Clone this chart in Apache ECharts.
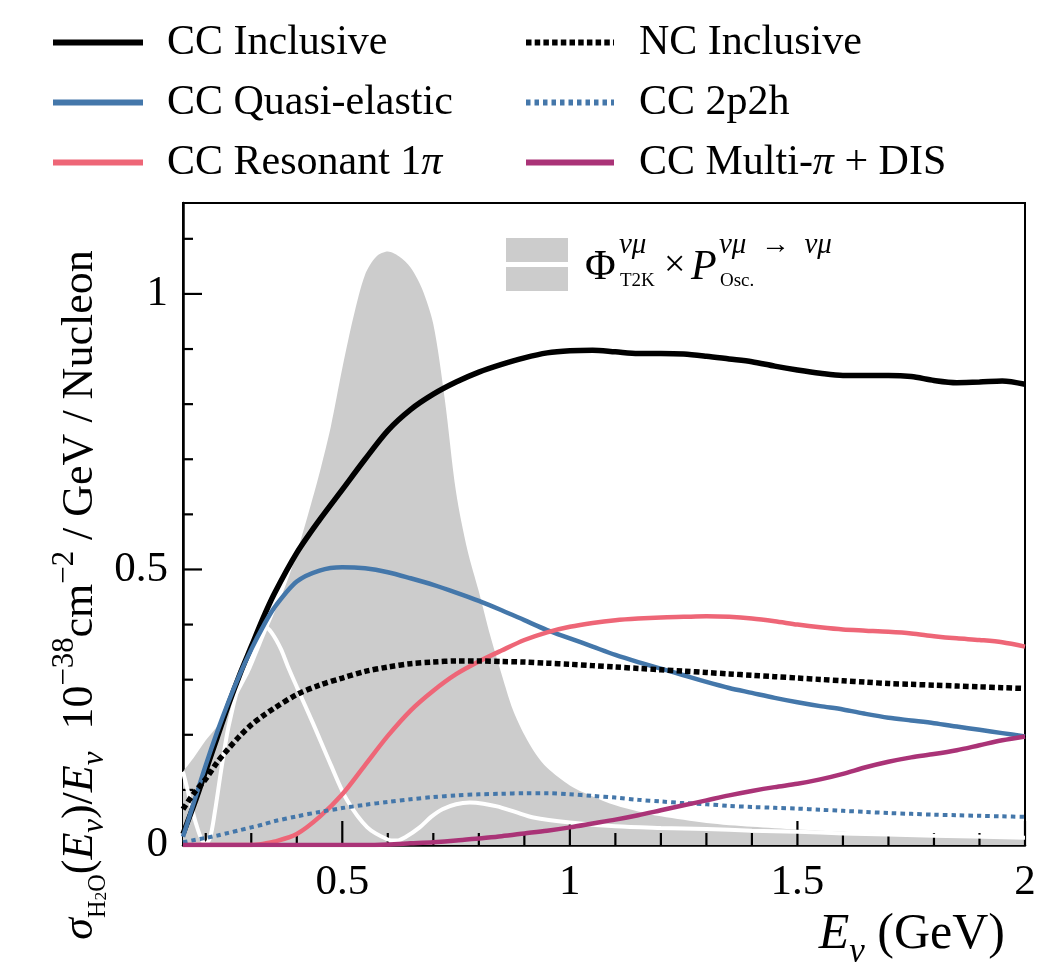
<!DOCTYPE html>
<html><head><meta charset="utf-8">
<script src="https://cdn.jsdelivr.net/npm/echarts@6/dist/echarts.min.js"></script>
<style>html,body{margin:0;padding:0;background:#fff}#c{width:1051px;height:965px}</style>
</head><body><div id="c"></div>
<script>
// ---- data ----
const energy = [0.15,0.175,0.2,0.225,0.25,0.275,0.3,0.325,0.35,
  0.4,0.45,0.5,0.55,0.6,0.65,0.7,0.75,0.8,0.85,0.9,0.95,1.0,
  1.05,1.1,1.15,1.2,1.25,1.3,1.35,1.4,1.45,1.5,1.55,1.6,1.65,1.7,1.75,1.8,1.85,1.9,1.95,2.0];
const ccInclusive = [0.02,0.075,0.135,0.195,0.255,0.31,0.36,0.41,0.455,
  0.53,0.59,0.645,0.70,0.752,0.79,0.818,0.84,0.858,0.872,0.884,0.893,0.897,
  0.898,0.895,0.892,0.892,0.891,0.887,0.882,0.877,0.869,0.862,0.856,0.852,0.852,0.852,0.850,0.843,0.839,0.840,0.842,0.836];
const ccQE = [0.015,0.08,0.145,0.205,0.26,0.31,0.355,0.395,0.43,
  0.478,0.498,0.504,0.502,0.495,0.484,0.472,0.458,0.443,0.426,0.408,0.39,0.375,
  0.36,0.345,0.332,0.32,0.308,0.296,0.285,0.276,0.267,0.259,0.252,0.246,0.238,0.231,0.226,0.221,0.215,0.209,0.203,0.197];
const ccRes = [0,0,0,0,0,0,0,0.002,0.006,
  0.02,0.051,0.092,0.145,0.198,0.244,0.28,0.31,0.333,0.353,0.372,0.386,0.396,
  0.403,0.408,0.411,0.413,0.414,0.415,0.414,0.411,0.406,0.4,0.395,0.391,0.389,0.387,0.384,0.379,0.375,0.372,0.368,0.36];
const ncInclusive = [0.065,0.095,0.12,0.15,0.175,0.198,0.218,0.234,0.248,
  0.273,0.29,0.303,0.315,0.323,0.329,0.332,0.334,0.334,0.333,0.332,0.33,0.328,
  0.3255,0.323,0.3205,0.318,0.3155,0.313,0.3105,0.308,0.3055,0.303,0.3005,0.298,0.2955,0.293,0.2915,0.29,0.2885,0.287,0.2855,0.284];
const cc2p2h = [0.005,0.009,0.013,0.017,0.022,0.027,0.032,0.037,0.043,
  0.052,0.06,0.067,0.073,0.078,0.083,0.087,0.09,0.092,0.093,0.094,0.094,0.092,
  0.089,0.086,0.082,0.079,0.076,0.074,0.071,0.069,0.0675,0.066,0.064,0.062,0.06,0.058,0.0565,0.055,0.054,0.053,0.052,0.051];
const ccMultiPiDIS = [0,0,0,0,0,0,0,0,0,
  0,0,0,0,0.001,0.003,0.005,0.008,0.012,0.016,0.021,0.026,0.032,
  0.039,0.046,0.054,0.063,0.072,0.081,0.09,0.098,0.105,0.111,0.119,0.129,0.141,0.151,0.159,0.165,0.172,0.181,0.19,0.197];

const fluxEnergy = [0.15,0.175,0.2,0.225,0.25,0.275,0.3,0.325,0.35,0.375,0.4,0.425,0.45,0.475,0.5,0.525,0.55,0.575,0.6,0.625,
  0.65,0.675,0.7,0.725,0.75,0.775,0.8,0.825,0.85,0.875,0.9,0.925,0.95,1.0,1.05,1.1,1.15,1.2,1.3,1.4,1.5,1.6,1.7,1.8,1.9,2.0];
const fluxT2K = [0.133,0.16,0.19,0.215,0.245,0.28,0.32,0.37,0.42,0.47,0.53,0.6,0.675,0.76,0.865,0.96,1.035,1.068,1.077,1.068,
  1.048,1.01,0.945,0.81,0.64,0.535,0.46,0.38,0.31,0.245,0.2,0.165,0.14,0.108,0.088,0.072,0.061,0.052,0.04,0.033,0.028,0.024,0.021,0.019,0.017,0.016];

const oscEnergy = [0.15,0.16,0.17,0.18,0.19,0.2,0.21,0.22,0.235,0.25,0.275,0.3,0.315,0.33,0.345,0.365,0.38,0.4,0.435,0.475,
  0.51,0.555,0.6,0.62,0.64,0.67,0.695,0.72,0.75,0.78,0.81,0.84,0.88,0.92,1.0,1.1,1.2,1.3,1.4,1.5,1.6,1.8,2.0];
const fluxOsc = [0.133,0.10,0.065,0.035,0.012,0.002,0.015,0.06,0.142,0.215,0.30,0.365,0.39,0.396,0.385,0.356,0.325,0.287,0.222,0.145,
  0.082,0.032,0.01,0.008,0.015,0.032,0.051,0.065,0.074,0.077,0.075,0.07,0.06,0.05,0.041,0.034,0.031,0.029,0.026,0.024,0.021,0.017,0.013];

const xMajorTicks = [0.5, 1, 1.5, 2];
const xMinorTicks = [0.2,0.3,0.4,0.6,0.7,0.8,0.9,1.1,1.2,1.3,1.4,1.6,1.7,1.8,1.9];
const yMajorTicks = [0, 0.5, 1];
const yMinorTicks = [0.1,0.2,0.3,0.4,0.6,0.7,0.8,0.9,1.1];

// ---- chart ----
const F = 'Liberation Serif';
const X_MIN = 0.15, X_MAX = 2, Y_MIN = 0, Y_MAX = 1.165;
const pairs = (xs, ys) => xs.map((x, i) => [x, ys[i]]);
const mkRich = (m) => ({
  n: {fontFamily: F, fontSize: m, color: '#000', lineHeight: m * 1.4},
  i: {fontFamily: F, fontSize: m, fontStyle: 'italic', color: '#000', lineHeight: m * 1.4},
  si: {fontFamily: F, fontSize: m * 0.7, fontStyle: 'italic', color: '#000', verticalAlign: 'bottom', lineHeight: m * 0.9},
  s: {fontFamily: F, fontSize: m * 0.55, color: '#000', verticalAlign: 'bottom', lineHeight: m * 0.9},
  ss: {fontFamily: F, fontSize: m * 0.4, color: '#000', verticalAlign: 'bottom', lineHeight: m * 0.75},
  p: {fontFamily: F, fontSize: m * 0.7, color: '#000', verticalAlign: 'top', lineHeight: m * 0.8}
});

const lineSeries = (name, data, color, width, type) => ({
  name, type: 'line', data: pairs(energy, data), showSymbol: false, symbol: 'none',
  smooth: 0.3, color, lineStyle: {color, width, type: type || 'solid', cap: 'butt'},
  z: 5, silent: true
});

// inward tick marks, placed through the axis scales (named so the legend filter keeps them)
const tickSeries = (name, values, dir, len) => ({
  name, type: 'custom', silent: true, clip: false,
  data: values.map(v => dir === 'x' ? [v, Y_MIN] : [X_MIN, v]),
  renderItem: (params, api) => {
    const p = api.coord([api.value(0), api.value(1)]);
    const shape = dir === 'x' ? {x: p[0] - 1.1, y: p[1] - len, width: 2.2, height: len}
                              : {x: p[0], y: p[1] - 1.1, width: len, height: 2.2};
    return {type: 'rect', shape, style: {fill: '#000'}};
  }
});

const chart = echarts.init(document.getElementById('c'));
const axisTxt = {fontFamily: F, fontSize: 43, color: '#000'};
const legendBase = {
  top: 15, orient: 'vertical', itemWidth: 90, itemHeight: 20, itemGap: 15,
  lineStyle: {width: 6}, itemStyle: {color: 'transparent', borderColor: 'transparent', borderWidth: 0}, selectedMode: false,
  formatter: n => n.replace('π', '{i|π}'),
  textStyle: {fontFamily: F, fontSize: 42, color: '#000', lineHeight: 45, padding: [0, 0, 0, 19],
    rich: {i: {fontFamily: F, fontSize: 42, fontStyle: 'italic', color: '#000'}}}
};

chart.setOption({
  animation: false,
  grid: {left: 183, right: 26, top: 203, bottom: 120, show: true, borderColor: '#000', borderWidth: 2},
  xAxis: {type: 'value', min: X_MIN, max: X_MAX,
    axisLine: {show: true, onZero: false, lineStyle: {color: '#000', width: 2.5}},
    axisTick: {show: false},
    axisLabel: Object.assign({customValues: xMajorTicks, margin: 16}, axisTxt),
    splitLine: {show: false}},
  yAxis: {type: 'value', min: Y_MIN, max: Y_MAX,
    axisLine: {show: true, onZero: false, lineStyle: {color: '#000', width: 2.5}},
    axisTick: {show: false},
    axisLabel: Object.assign({customValues: yMajorTicks, margin: 15}, axisTxt),
    splitLine: {show: false}},
  legend: [
    Object.assign({}, legendBase, {left: 45, data: ['CC Inclusive', 'CC Quasi-elastic', 'CC Resonant 1π']}),
    Object.assign({}, legendBase, {left: 518, itemWidth: 88,
      textStyle: Object.assign({}, legendBase.textStyle, {padding: [0, 0, 0, 20]}),
      data: ['NC Inclusive', 'CC 2p2h', 'CC Multi-π + DIS']})
  ],
  series: [
    {name: 'flux', type: 'line', data: pairs(fluxEnergy, fluxT2K), showSymbol: false, symbol: 'none', smooth: 0.3,
      color: '#cccccc', lineStyle: {width: 0, color: '#cccccc'}, areaStyle: {color: '#cccccc', opacity: 1}, z: 1, silent: true},
    {name: 'oscillated', type: 'line', data: pairs(oscEnergy, fluxOsc), showSymbol: false, symbol: 'none', smooth: 0.3,
      color: '#ffffff', lineStyle: {width: 4, color: '#ffffff'}, z: 2, silent: true},
    tickSeries('x major ticks', xMajorTicks, 'x', 24),
    tickSeries('x minor ticks', xMinorTicks, 'x', 12),
    tickSeries('y major ticks', yMajorTicks, 'y', 19),
    tickSeries('y minor ticks', yMinorTicks, 'y', 10),
    lineSeries('CC Inclusive', ccInclusive, '#000000', 5.5),
    lineSeries('CC Quasi-elastic', ccQE, '#4477AA', 4.5),
    lineSeries('CC Resonant 1π', ccRes, '#EE6677', 4.5),
    lineSeries('NC Inclusive', ncInclusive, '#000000', 5.5, [5.5, 3.2]),
    lineSeries('CC 2p2h', cc2p2h, '#4477AA', 4, [4.5, 4]),
    lineSeries('CC Multi-π + DIS', ccMultiPiDIS, '#AA3377', 4.5)
  ],
  graphic: [
    // legend entry for the flux band
    {type: 'rect', shape: {x: 506, y: 238, width: 62, height: 24}, style: {fill: '#cccccc'}, z: 10},
    {type: 'rect', shape: {x: 506, y: 267, width: 62, height: 24}, style: {fill: '#cccccc'}, z: 10},
    {type: 'text', x: 585, y: 268, z: 10, style: {text: 'Φ', fontFamily: F, fontSize: 42, fill: '#000', verticalAlign: 'middle'}},
    {type: 'text', x: 619, y: 245, z: 10, style: {text: 'νμ', fontFamily: F, fontSize: 29, fontStyle: 'italic', fill: '#000', verticalAlign: 'middle'}},
    {type: 'text', x: 620, y: 281, z: 10, style: {text: 'T2K', fontFamily: F, fontSize: 19, fill: '#000', verticalAlign: 'middle'}},
    {type: 'text', x: 664, y: 266, z: 10, style: {text: '×', fontFamily: F, fontSize: 38, fill: '#000', verticalAlign: 'middle'}},
    {type: 'text', x: 691, y: 268, z: 10, style: {text: 'P', fontFamily: F, fontSize: 42, fontStyle: 'italic', fill: '#000', verticalAlign: 'middle'}},
    {type: 'text', x: 719, y: 245, z: 10, style: {text: 'νμ\u2002→\u2002νμ', fontFamily: F, fontSize: 29, fontStyle: 'italic', fill: '#000', verticalAlign: 'middle'}},
    {type: 'text', x: 720, y: 281, z: 10, style: {text: 'Osc.', fontFamily: F, fontSize: 19, fill: '#000', verticalAlign: 'middle'}},
    // axis titles
    {type: 'text', x: 80, y: 595, rotation: Math.PI / 2, z: 10,
      style: {text: '{i|σ}{s|H}{ss|2}{s|O}{n|(}{i|E}{si|ν}{n|)/}{i|E}{si|ν}{n|  10}{p|−38}{n|cm}{p|−2}{n| / GeV / Nucleon}',
        rich: mkRich(44), align: 'center', verticalAlign: 'middle'}},
    {type: 'text', x: 1005, y: 935, z: 10,
      style: {text: '{i|E}{si|ν}{n| (GeV)}', rich: mkRich(50), align: 'right', verticalAlign: 'middle'}}
  ]
});
</script></body></html>
